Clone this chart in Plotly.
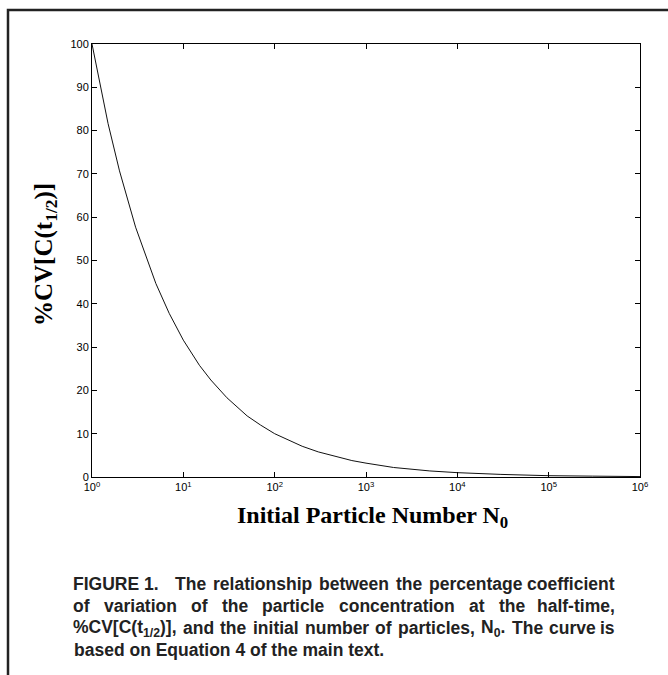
import plotly.graph_objects as go

# Values
n0_values = [1, 1.5, 2, 3, 5, 7, 10, 15, 20, 30, 50, 70, 100, 150, 200, 300, 500, 700,
             1000, 2000, 5000, 1e4, 3e4, 1e5, 3e5, 1e6]
cv_values = [100, 81.6, 70.7, 57.7, 44.7, 37.8, 31.6, 25.8, 22.4, 18.3, 14.1, 12.0, 10.0,
             8.2, 7.1, 5.8, 4.5, 3.8, 3.2, 2.2, 1.4, 1.0, 0.6, 0.3, 0.2, 0.1]

x_tick_vals = [1, 10, 100, 1e3, 1e4, 1e5, 1e6]
x_tick_text = ["10<sup>0</sup>", "10<sup>1</sup>", "10<sup>2</sup>", "10<sup>3</sup>",
               "10<sup>4</sup>", "10<sup>5</sup>", "10<sup>6</sup>"]
y_tick_vals = [0, 10, 20, 30, 40, 50, 60, 70, 80, 90, 100]

caption_words = [
    ["FIGURE 1.", "The", "relationship", "between", "the", "percentage", "coefficient"],
    ["of", "variation", "of", "the", "particle", "concentration", "at", "the", "half-time,"],
    ["%CV[C(t<sub>1/2</sub>)],", "and", "the", "initial", "number", "of", "particles,",
     "N<sub>0</sub>.", "The", "curve", "is"],
    ["based on Equation 4 of the main text."],
]

W, H = 668, 675
L, R, T, B = 92, 640, 44, 477
pw, ph = R - L, B - T


def px(x):
    return (x - L) / pw


def py(y):
    return (B - y) / ph


# Arial/Liberation Sans Bold advance widths (per 1000 em) used to justify the caption
AW = {' ': 278, '%': 889, '(': 333, ')': 333, ',': 278, '-': 333, '.': 278, '/': 278,
      '[': 333, ']': 333}
for c in "0123456789":
    AW[c] = 556
AW.update(dict(zip("ABCDEFGHIJKLMNOPQRSTUVWXYZ",
                   [722, 722, 722, 722, 667, 611, 778, 722, 278, 556, 722, 611, 833, 722,
                    778, 667, 778, 722, 667, 611, 722, 667, 944, 667, 667, 611])))
AW.update(dict(zip("abcdefghijklmnopqrstuvwxyz",
                   [556, 611, 556, 611, 556, 333, 611, 611, 278, 278, 556, 278, 889, 611,
                    611, 611, 611, 389, 556, 333, 611, 556, 778, 556, 556, 500])))


def text_width(s, size):
    w, scale, i = 0.0, 1.0, 0
    while i < len(s):
        if s.startswith("<sub>", i):
            scale = 0.7
            i += 5
            continue
        if s.startswith("</sub>", i):
            scale = 1.0
            i += 6
            continue
        w += AW.get(s[i], 556) * scale
        i += 1
    return w * size / 1000.0


fig = go.Figure()
fig.add_trace(go.Scatter(x=n0_values, y=cv_values, mode="lines",
                         line=dict(color="#111", width=1), showlegend=False))

tickfont = dict(family="Liberation Sans, Arial, sans-serif", size=11, color="black")
fig.update_xaxes(type="log", range=[0, 6], tickvals=x_tick_vals, ticktext=x_tick_text,
                 ticks="inside", ticklen=5, tickcolor="black", showline=True, linecolor="black",
                 linewidth=1, mirror="ticks", showgrid=False, zeroline=False, tickfont=tickfont)
fig.update_yaxes(range=[0, 100], tickvals=y_tick_vals, ticks="inside", ticklen=5,
                 tickcolor="black", showline=True, linecolor="black", linewidth=1,
                 mirror="ticks", showgrid=False, zeroline=False, tickfont=tickfont)

serif = "Liberation Serif, Times New Roman, serif"
annotations = [
    dict(text="<b>%CV[C(t<sub>1/2</sub>)]</b>", x=px(45), y=py(255), xref="paper", yref="paper",
         textangle=-90, showarrow=False, xanchor="center", yanchor="middle",
         font=dict(family=serif, size=25, color="black")),
    dict(text="<b>Initial Particle Number N<sub>0</sub></b>", x=px(372), y=py(517),
         xref="paper", yref="paper", showarrow=False, xanchor="center", yanchor="middle",
         font=dict(family=serif, size=24, color="black")),
]

cap_size = 17.5
cap_left, cap_right = 72, 616
cap_y = [584, 606, 628, 650]
cap_font = dict(family="Liberation Sans, Arial, sans-serif", size=cap_size, color="#222")
for li, (words, yy) in enumerate(zip(caption_words, cap_y)):
    if len(words) == 1:
        annotations.append(dict(text="<b>" + words[0] + "</b>", x=px(cap_left), y=py(yy),
                                xref="paper", yref="paper", showarrow=False,
                                xanchor="left", yanchor="middle", font=cap_font))
        continue
    widths = [text_width(w, cap_size) for w in words]
    extra = [0.0] * len(words)
    if li == 0:
        extra[0] = 2 * AW[' '] * cap_size / 1000.0  # wider gap after "FIGURE 1."
    gap = (cap_right - cap_left - sum(widths) - sum(extra)) / (len(words) - 1)
    xcur = cap_left
    for wi, (w, wd) in enumerate(zip(words, widths)):
        if wi == len(words) - 1:
            annotations.append(dict(text="<b>" + w + "</b>", x=px(cap_right), y=py(yy),
                                    xref="paper", yref="paper", showarrow=False,
                                    xanchor="right", yanchor="middle", font=cap_font,
                                    borderpad=0))
        else:
            annotations.append(dict(text="<b>" + w + "</b>", x=px(xcur), y=py(yy),
                                    xref="paper", yref="paper", showarrow=False,
                                    xanchor="left", yanchor="middle", font=cap_font,
                                    borderpad=0))
        xcur += wd + gap + extra[wi]

fig.update_layout(
    width=W, height=H, margin=dict(l=L, r=W - R, t=T, b=H - B),
    paper_bgcolor="white", plot_bgcolor="white", showlegend=False,
    annotations=annotations,
    shapes=[dict(type="rect", xref="paper", yref="paper", x0=px(8), x1=px(720),
                 y0=py(720), y1=py(10), line=dict(color="#222", width=2.5))],
)

fig.write_html("out.html")
